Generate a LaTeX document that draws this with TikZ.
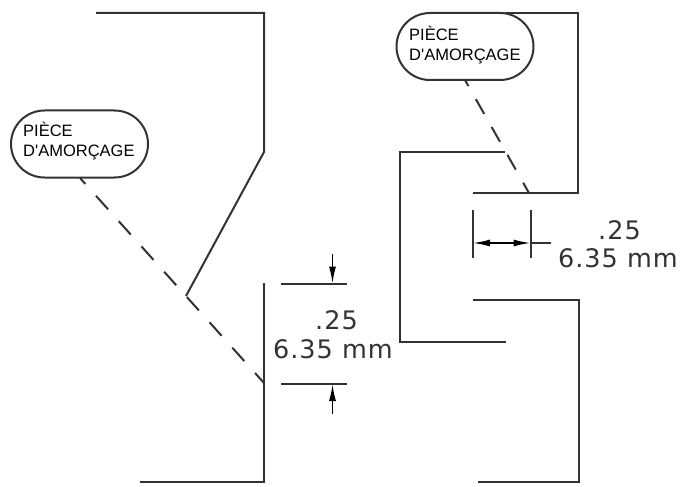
\documentclass[tikz,border=0pt]{standalone}
\usepackage{fontspec}
\setmainfont{Liberation Sans}
\newfontfamily\cadfont[LetterSpace=4]{DejaVu Sans}
\usetikzlibrary{shapes.misc,arrows.meta}
\definecolor{ink}{HTML}{333333}
\tikzset{
  x=1pt,y=-1pt,
  wall/.style={draw=ink,line width=2pt,line join=miter},
  thin wall/.style={draw=ink,line width=2pt},
  leader/.style={draw=ink,line width=2pt},
  bubble/.style={draw=ink,line width=2pt,fill=white,rounded rectangle,minimum width=137pt,minimum height=67pt,inner sep=0pt},
  bubbletext/.style={inner sep=0pt,align=left,anchor=north west,font=\fontsize{16.5}{20}\selectfont,text=black},
  dimtext/.style={inner sep=0pt,font=\cadfont\fontsize{25.5}{25.5}\selectfont,text=ink,anchor=base east},
  dimarrow/.style={draw=black,line width=1.5pt,-{Latex[length=17pt,width=7pt]}}
}
\begin{document}
\begin{tikzpicture}
\useasboundingbox (0,0) rectangle (681,487);
% left part
\coordinate (a1) at (96,13);
\coordinate (a2) at (264,13);
\coordinate (a3) at (264,152);
\coordinate (a4) at (186,296);
\coordinate (b1) at (264,283);
\coordinate (b2) at (264,482);
\coordinate (b3) at (140,482);
\draw[wall] (a1) -- (a2) -- (a3) -- (a4);
\draw[wall] (b1) -- (b2) -- (b3);
\coordinate (lstart) at (80,178);
\coordinate (lend) at (264,383);
\draw[leader,dash pattern=on 18pt off 16pt,dash phase=10pt] (lstart) -- (lend);
\node[bubble] (lb) at (79.5,144) {};
\node[bubbletext] (lbt) at (23,122) {PIÈCE\\D\textquotesingle AMORÇAGE};
% left dimension
\coordinate (d1a) at (281,283.5);
\coordinate (d1b) at (347,283.5);
\coordinate (d2a) at (281,384);
\coordinate (d2b) at (347,384);
\coordinate (d1t) at (332.5,254);
\coordinate (d1h) at (332.5,283.5);
\coordinate (d2t) at (332.5,414);
\coordinate (d2h) at (332.5,384);
\draw[thin wall] (d1a) -- (d1b);
\draw[thin wall] (d2a) -- (d2b);
\draw[dimarrow] (d1t) -- (d1h);
\draw[dimarrow] (d2t) -- (d2h);
\node[dimtext] (lt1) at (358,329) {.25};
\node[dimtext] (lt2) at (393,358) {6.35 mm};
% right part
\coordinate (c1) at (505,13);
\coordinate (c2) at (578,13);
\coordinate (c3) at (578,193);
\coordinate (c4) at (473,193);
\coordinate (e1) at (505,152);
\coordinate (e2) at (400,152);
\coordinate (e3) at (400,342);
\coordinate (e4) at (506,342);
\coordinate (f1) at (473,300);
\coordinate (f2) at (579,300);
\coordinate (f3) at (579,482);
\coordinate (f4) at (478,482);
\draw[wall] (c1) -- (c2) -- (c3) -- (c4);
\draw[wall] (e1) -- (e2) -- (e3) -- (e4);
\draw[wall] (f1) -- (f2) -- (f3) -- (f4);
\coordinate (rstart) at (465,80);
\coordinate (rend) at (529,193);
\draw[leader,dash pattern=on 17pt off 15pt,dash phase=10pt] (rstart) -- (rend);
\node[bubble] (rb) at (465,46.5) {};
\node[bubbletext] (rbt) at (409,26) {PIÈCE\\D\textquotesingle AMORÇAGE};
% right dimension
\coordinate (g1a) at (473,210);
\coordinate (g1b) at (473,258);
\coordinate (g2a) at (530.5,210);
\coordinate (g2b) at (530.5,258);
\coordinate (gm) at (502,243);
\coordinate (gl) at (473,243);
\coordinate (gr) at (530.5,243);
\coordinate (ge) at (551,243);
\draw[thin wall] (g1a) -- (g1b);
\draw[thin wall] (g2a) -- (g2b);
\draw[dimarrow] (gm) -- (gl);
\draw[dimarrow] (gm) -- (gr);
\draw[thin wall] (gr) -- (ge);
\node[dimtext] (rt1) at (641,239) {.25};
\node[dimtext] (rt2) at (678,267) {6.35 mm};
\end{tikzpicture}
\end{document}
